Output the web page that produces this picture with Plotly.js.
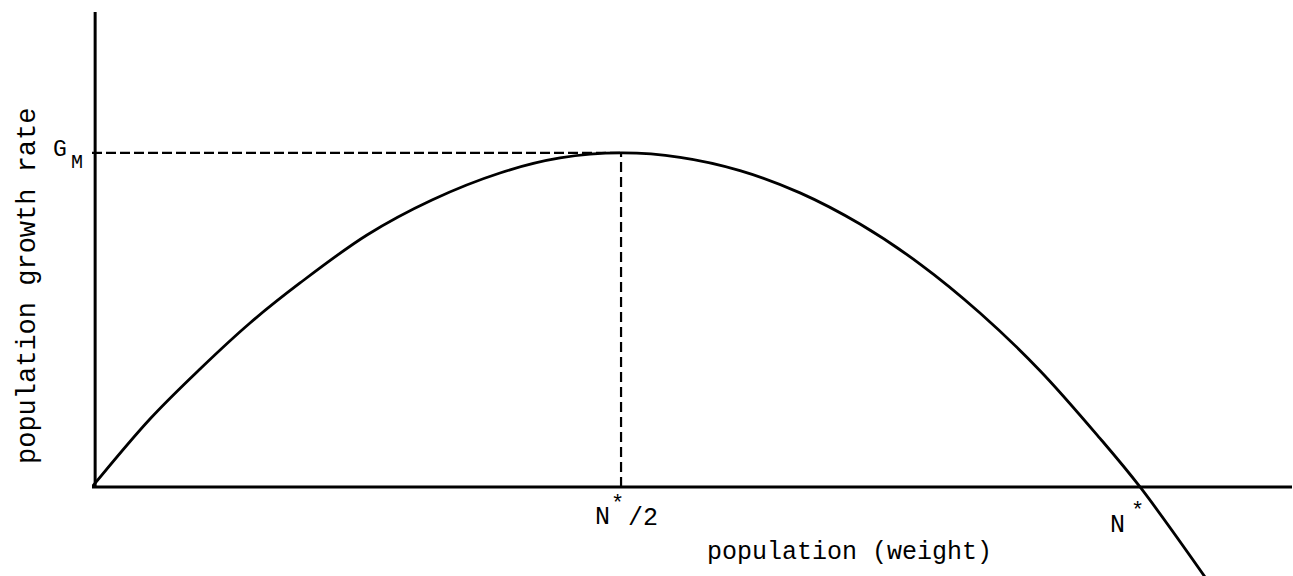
<!DOCTYPE html>
<html><head><meta charset="utf-8">
<script src="https://cdn.plot.ly/plotly-3.0.1.min.js"></script>
<style>html,body{margin:0;padding:0;background:#fff}</style>
</head><body><div id="chart" style="width:1293px;height:576px"></div>
<script>
// population as fraction of N*, growth rate as fraction of G_M
const populationRel = [0, 0.0553, 0.1031, 0.1508, 0.1985, 0.2624, 0.3244, 0.3893, 0.4466, 0.5048,
                       0.5611, 0.6183, 0.6756, 0.7328, 0.7901, 0.8473, 0.9046, 0.9618, 1.0, 1.062];
const growthRel     = [0, 0.2036, 0.3533, 0.4910, 0.6108, 0.7545, 0.8593, 0.9401, 0.9850, 1.0,
                       0.9871, 0.9473, 0.8805, 0.7871, 0.6674, 0.5210, 0.3482, 0.1455, 0, -0.2695];
const halfCapacity = 0.5048;  // N*/2
const maxGrowth = 1.0;        // G_M
const axisXMax = 1.145;
const axisYMax = 1.422;
const axisYMin = -0.2665;

const FONT = "'Liberation Mono', 'Courier New', monospace";
const W = 1293, H = 576, L = 92, R = 1, T = 12, B = 0;
const pw = W - L - R, ph = H - T - B;

const traces = [
  {x: [0, halfCapacity], y: [maxGrowth, maxGrowth], mode: 'lines', line: {color: '#000', width: 2.2, dash: '10px,4px'}, hoverinfo: 'skip'},
  {x: [halfCapacity, halfCapacity], y: [0, maxGrowth], mode: 'lines', line: {color: '#000', width: 2.2, dash: '10px,5px'}, hoverinfo: 'skip'},
  {x: populationRel, y: growthRel, mode: 'lines', line: {color: '#000', width: 2.8, shape: 'spline', smoothing: 1}, hoverinfo: 'skip'}
];

function ann(text, xp, yp, size, extra){
  return Object.assign({text: text, xref: 'paper', yref: 'paper', x: (xp - L) / pw, y: 1 - (yp - T) / ph,
    xanchor: 'center', yanchor: 'middle', showarrow: false, font: {family: FONT, size: size, color: '#000'}}, extra || {});
}

const layout = {
  width: W, height: H,
  margin: {l: L, r: R, t: T, b: B, pad: 0},
  paper_bgcolor: '#fff', plot_bgcolor: '#fff',
  showlegend: false,
  xaxis: {range: [0, axisXMax], showgrid: false, zeroline: false, showline: false, showticklabels: false, ticks: '', fixedrange: true},
  yaxis: {range: [axisYMin, axisYMax], showgrid: false, zeroline: false, showline: false, showticklabels: false, ticks: '', fixedrange: true},
  shapes: [
    {type: 'line', xref: 'x', yref: 'y', x0: 0, x1: axisXMax, y0: 0, y1: 0, line: {color: '#000', width: 3}},
    {type: 'line', xref: 'x', yref: 'y', x0: 0.003, x1: 0.003, y0: 0, y1: axisYMax, line: {color: '#000', width: 3}}
  ],
  annotations: [
    ann('population (weight)', 849, 552, 25),
    ann('population growth rate', 28, 286, 27, {textangle: -90}),
    ann('G', 60, 150, 23),
    ann('M', 77, 162, 20),
    ann('N', 612, 517, 25, {xanchor: 'right'}),
    ann('*', 626, 504, 22, {xanchor: 'right'}),
    ann('/2', 626, 518, 25, {xanchor: 'left'}),
    ann('N', 1117, 525, 25),
    ann('*', 1137, 511, 22)
  ]
};

Plotly.newPlot('chart', traces, layout, {displayModeBar: false, staticPlot: true});
</script>
</body></html>
